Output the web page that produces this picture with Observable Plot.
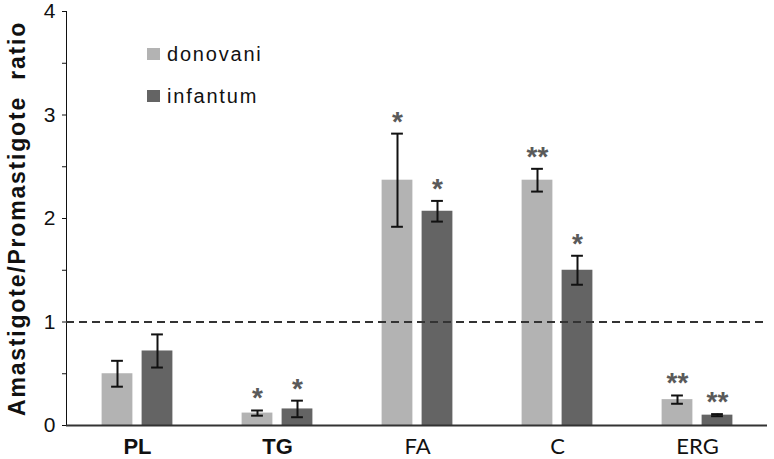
<!DOCTYPE html>
<html><head><meta charset="utf-8">
<script src="https://cdn.jsdelivr.net/npm/d3@7"></script>
<script src="https://cdn.jsdelivr.net/npm/@observablehq/plot@0.6"></script>
<style>
body{margin:0;background:#fff}
#wrap{position:relative;width:774px;height:459px}
.legend{position:absolute;left:147px;top:0;font:20px "Liberation Sans",Arial,sans-serif;letter-spacing:1.8px;color:#111}
.legend .row{position:absolute;left:0;display:flex;align-items:center;white-space:nowrap;height:20px;line-height:20px}
.legend .sw{width:13px;height:12px;margin-right:7px;flex:none}
</style></head>
<body><div id="wrap"></div>
<script>
const categories = ["PL", "TG", "FA", "C", "ERG"];
const donovani = [0.50, 0.12, 2.37, 2.37, 0.25];
const donovaniErr = [0.125, 0.025, 0.45, 0.11, 0.04];
const donovaniSig = ["", "*", "*", "**", "**"];
const infantum = [0.72, 0.16, 2.07, 1.50, 0.10];
const infantumErr = [0.16, 0.08, 0.10, 0.14, 0.01];
const infantumSig = ["", "*", "*", "*", "**"];
const yTicks = [0, 0.5, 1, 1.5, 2, 2.5, 3, 3.5, 4];
const seriesNames = ["donovani", "infantum"];
const yLabel = "Amastigote/Promastigote ratio";

const colors = {donovani: "#b3b3b3", infantum: "#646464"};
const W = 774, H = 459, mL = 66, mR = 7, mT = 11, mB = 34;
const band = (W - mL - mR) / categories.length;
const off = 20, barW = 31, cap = 12;

const mk = (vals, errs, sigs, s) => categories.map((c, i) => ({category: c, series: s, value: vals[i], err: errs[i], sig: sigs[i]}));
const don = mk(donovani, donovaniErr, donovaniSig, "donovani");
const inf = mk(infantum, infantumErr, infantumSig, "infantum");

function seriesMarks(data, dx, fill) {
  const inL = band / 2 + dx - barW / 2, inR = band / 2 - dx - barW / 2;
  const capIn = band / 2 - cap / 2;
  return [
    Plot.barY(data, {x: "category", y: "value", fill, insetLeft: inL, insetRight: inR}),
    Plot.ruleX(data, {x: "category", y1: d => d.value - d.err, y2: d => d.value + d.err, dx, stroke: "#111", strokeWidth: 2}),
    Plot.tickY(data, {x: "category", y: d => d.value - d.err, dx, insetLeft: capIn, insetRight: capIn, stroke: "#111", strokeWidth: 2}),
    Plot.tickY(data, {x: "category", y: d => d.value + d.err, dx, insetLeft: capIn, insetRight: capIn, stroke: "#111", strokeWidth: 2}),
    Plot.text(data.filter(d => d.sig), {x: "category", y: d => d.value + d.err, text: "sig", dx, dy: -12, fontSize: 28, fontWeight: "bold", fill: "#5a5a5a", lineAnchor: "middle"})
  ];
}

const chart = Plot.plot({
  width: W, height: H,
  marginLeft: mL, marginRight: mR, marginTop: mT, marginBottom: mB,
  style: {fontSize: "21px", fontFamily: "'Liberation Sans', Arial, sans-serif", color: "#111", background: "#fff"},
  x: {domain: categories, padding: 0, tickSize: 0, tickPadding: 13, label: null},
  y: {domain: [0, 4], ticks: yTicks, tickFormat: d => Number.isInteger(d) ? String(d) : "", tickSize: 4, tickPadding: 7,
      line: true, label: yLabel, labelAnchor: "center", labelOffset: 58},
  marks: [
    ...seriesMarks(don, -off, colors.donovani),
    ...seriesMarks(inf, off, colors.infantum),
    Plot.ruleY([1], {stroke: "#333", strokeWidth: 2, strokeDasharray: "8,5"}),
    Plot.ruleY([0], {stroke: "#333", strokeWidth: 2})
  ]
});

d3.select(chart).selectAll("text").each(function() {
  const t = this.textContent.trim();
  if (t.includes("Amastigote")) {
    d3.select(this).text(yLabel).attr("font-weight", "bold").attr("font-size", 23).attr("letter-spacing", "1.8px").attr("word-spacing", "8px");
  } else if (t === "PL" || t === "TG") {
    d3.select(this).attr("font-weight", "bold").attr("font-size", 22);
  } else if (t === "FA" || t === "C" || t === "ERG") {
    d3.select(this).attr("font-size", 22).attr("font-family", "Lato, 'Liberation Sans', sans-serif");
  }
});

const wrap = document.getElementById("wrap");
wrap.appendChild(chart);
const legend = document.createElement("div");
legend.className = "legend";
seriesNames.forEach((s, i) => {
  const row = document.createElement("div");
  row.className = "row";
  row.style.top = (44 + i * 42) + "px";
  const sw = document.createElement("span");
  sw.className = "sw";
  sw.style.background = colors[s];
  const tx = document.createElement("span");
  tx.textContent = s;
  row.appendChild(sw); row.appendChild(tx);
  legend.appendChild(row);
});
wrap.appendChild(legend);
</script>
</body></html>
